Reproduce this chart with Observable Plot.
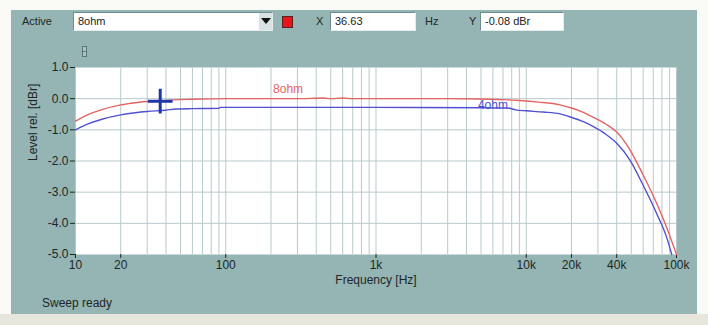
<!DOCTYPE html>
<html><head><meta charset="utf-8">
<script src="https://cdn.jsdelivr.net/npm/d3@7"></script>
<script src="https://cdn.jsdelivr.net/npm/@observablehq/plot@0.6"></script>
<style>
html,body{margin:0;padding:0;background:#f9f9f5;}
#wrap{position:relative;width:708px;height:325px;overflow:hidden;background:#f9f9f5;font-family:"Liberation Sans",Arial,sans-serif;color:#1e2626;}
#panel{position:absolute;left:11px;top:10px;width:686px;height:304px;background:#94b5b4;}
#strip{position:absolute;left:0;top:314px;width:708px;height:11px;background:#e6e6dd;}
#chart{position:absolute;left:0;top:0;}
.lbl{position:absolute;font-size:11px;line-height:14px;white-space:nowrap;}
.box{position:absolute;background:#fff;border-top:1px solid #6f8d8d;border-left:1px solid #6f8d8d;border-bottom:1px solid #e4ecec;border-right:1px solid #e4ecec;height:19px;box-sizing:border-box;font-size:11px;line-height:17px;padding-left:4px;color:#222;}
</style></head><body>
<div id="wrap">
  <div id="panel"></div>
  <div id="strip"></div>
  <div id="chart"></div>
  <div class="lbl" style="left:22px;top:14px;">Active</div>
  <div class="box" id="activeBox" style="left:73px;top:12px;width:200px;"></div>
  <div style="position:absolute;left:259px;top:13px;width:13px;height:17px;background:#d8e2e2;"></div>
  <div style="position:absolute;left:261px;top:18px;width:0;height:0;border-left:5px solid transparent;border-right:5px solid transparent;border-top:6px solid #111;"></div>
  <div style="position:absolute;left:282px;top:16px;width:11px;height:12px;background:#e8141a;border:1px solid #5a2020;box-sizing:border-box;"></div>
  <div class="lbl" style="left:316px;top:14px;">X</div>
  <div class="box" id="xBox" style="left:330px;top:12px;width:86px;"></div>
  <div class="lbl" style="left:425px;top:14px;">Hz</div>
  <div class="lbl" style="left:469px;top:14px;">Y</div>
  <div class="box" id="yBox" style="left:480px;top:12px;width:84px;"></div>
  <div style="position:absolute;left:82px;top:46px;width:5px;height:11px;border:1px solid #5d7575;box-sizing:border-box;background:#a9c4c3;"></div>
  <div style="position:absolute;left:82px;top:51px;width:5px;height:1px;background:#5d7575;"></div>
  <div class="lbl" id="status" style="left:42px;top:296px;font-size:12px;"></div>
</div>
<script>
// ---- data ----
const seriesNames = ["8ohm", "4ohm"];
const freq8 = [10, 12, 15, 20, 25, 30, 36.63, 45, 60, 100, 300, 450, 500, 600, 700, 1000, 3000, 5000, 7000, 9000, 12000, 16800, 20000, 24000, 28000, 34000, 40000, 49000, 60000, 74000, 86000, 100000];
const level8 = [-0.72, -0.52, -0.35, -0.2, -0.13, -0.09, -0.08, -0.04, -0.02, 0.0, 0.0, 0.02, 0.0, 0.02, 0.0, 0.0, 0.0, -0.01, -0.03, -0.06, -0.11, -0.2, -0.3, -0.44, -0.6, -0.82, -1.07, -1.64, -2.45, -3.37, -4.13, -5.0];
const freq4 = [10, 12, 15, 20, 25, 30, 40, 47, 60, 90, 92, 200, 1000, 5000, 7500, 8500, 10000, 13000, 16800, 20000, 24000, 28000, 34000, 40000, 49000, 60000, 74000, 86000, 93000];
const level4 = [-1.0, -0.82, -0.66, -0.52, -0.45, -0.41, -0.37, -0.33, -0.32, -0.31, -0.28, -0.28, -0.28, -0.29, -0.3, -0.36, -0.39, -0.43, -0.49, -0.6, -0.74, -0.9, -1.15, -1.43, -1.97, -2.78, -3.7, -4.45, -5.0];
const cursorX = 36.63;
const cursorY = -0.08;
const xTicks = [10, 20, 100, 1000, 10000, 20000, 40000, 100000];
const xTickLabels = ["10", "20", "100", "1k", "10k", "20k", "40k", "100k"];
const yTicks = [1, 0, -1, -2, -3, -4, -5];
const yTickLabels = ["1.0", "0.0", "-1.0", "-2.0", "-3.0", "-4.0", "-5.0"];
const gridX = [10, 20, 30, 40, 50, 60, 70, 80, 90, 100, 200, 300, 400, 500, 600, 700, 800, 900, 1000, 2000, 3000, 4000, 5000, 6000, 7000, 8000, 9000, 10000, 20000, 30000, 40000, 50000, 60000, 70000, 80000, 90000, 100000];
const gridY = [0, -1, -2, -3, -4];
const xLabel = "Frequency [Hz]";
const yLabel = "Level rel. [dBr]";
const statusText = "Sweep ready";

// ---- top bar texts ----
document.getElementById("activeBox").textContent = seriesNames[0];
document.getElementById("xBox").textContent = cursorX.toFixed(2);
document.getElementById("yBox").textContent = cursorY.toFixed(2) + " dBr";
document.getElementById("status").textContent = statusText;

const d8 = freq8.map((f, i) => ({f, l: level8[i]}));
const d4 = freq4.map((f, i) => ({f, l: level4[i]}));
const xTickData = xTicks.map((v, i) => ({v, t: xTickLabels[i]}));
const yFmt = d => {
  const i = yTicks.findIndex(v => Math.abs(d - v) < 1e-6);
  return i >= 0 ? yTickLabels[i] : "";
};
const red = "#e46462", blue = "#5050d0", grid = "#b9c9cc", ink = "#1e2626";

const chart = Plot.plot({
  width: 708, height: 325,
  marginLeft: 75, marginRight: 32, marginTop: 67, marginBottom: 71,
  style: {background: "transparent", fontFamily: "'Liberation Sans', Arial, sans-serif", fontSize: "12px", color: ink, overflow: "visible"},
  x: {type: "log", domain: [10, 100000]},
  y: {domain: [-5, 1]},
  marks: [
    Plot.frame({fill: "white", stroke: "none"}),
    Plot.ruleX(gridX, {stroke: grid, strokeWidth: 1}),
    Plot.ruleY(gridY, {stroke: grid, strokeWidth: 1}),
    Plot.axisX({ticks: xTicks, tickFormat: () => "", tickSize: 4, tickPadding: 2, label: null, stroke: ink}),
    Plot.text(xTickData, {x: "v", text: "t", frameAnchor: "bottom", dy: 14, fontSize: 12, fill: ink}),
    Plot.axisY({ticks: yTicks, tickFormat: yFmt, tickSize: 5, tickPadding: 2, fontSize: 12, label: null, stroke: ink}),
    Plot.text([xLabel], {frameAnchor: "bottom", dy: 29, fontSize: 12, fill: ink}),
    Plot.text([yLabel], {frameAnchor: "left", dx: -42, rotate: -90, fontSize: 12, fill: ink}),
    Plot.line(d8, {x: "f", y: "l", stroke: red, strokeWidth: 1.4, curve: "monotone-x"}),
    Plot.line(d4, {x: "f", y: "l", stroke: blue, strokeWidth: 1.4, curve: "monotone-x"}),
    Plot.text([{f: 260, l: 0, t: seriesNames[0]}], {x: "f", y: "l", text: "t", dy: -10, fill: red, fontSize: 12}),
    Plot.text([{f: 6000, l: -0.3, t: seriesNames[1]}], {x: "f", y: "l", text: "t", dy: -3, fill: blue, fontSize: 12}),
    Plot.dot([{f: cursorX, l: cursorY}], {x: "f", y: "l", symbol: "plus", r: 8, stroke: "#1f35a8", strokeWidth: 3})
  ]
});
document.getElementById("chart").appendChild(chart);
</script>
</body></html>
